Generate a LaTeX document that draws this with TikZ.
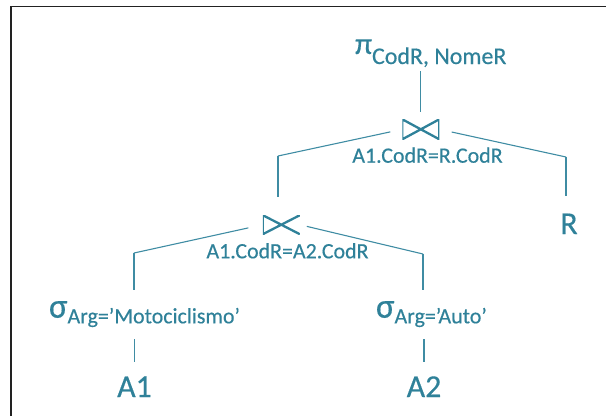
\documentclass[tikz,border=0pt]{standalone}
\usepackage{fontspec}
\setmainfont{Carlito}[FakeBold=0.4]
\newcommand\myfs[1]{\fontsize{#1}{#1}\selectfont}
\definecolor{teal1}{HTML}{2F8199}
\definecolor{line1}{HTML}{3F8CA3}
\definecolor{frame1}{HTML}{222222}
\begin{document}
\begin{tikzpicture}[x=1bp,y=-1bp,
  lbl/.style={inner sep=0pt, outer sep=0pt, text=teal1},
  leaf/.style={lbl, font=\myfs{32}},
  cond/.style={lbl, font=\myfs{22}},
  conn/.style={draw=line1, line width=1.1bp},
  joinsym/.style={inner sep=0pt, outer sep=0pt, minimum width=37bp, minimum height=20bp,
    path picture={\draw[teal1, line width=2.3bp, line join=miter]
      (path picture bounding box.north west) -- (path picture bounding box.south east)
      -- (path picture bounding box.north east) -- (path picture bounding box.south west) -- cycle;}},
  semisym/.style={inner sep=0pt, outer sep=0pt, minimum width=37bp, minimum height=19bp,
    path picture={\draw[teal1, line width=2.3bp, line join=miter]
      (path picture bounding box.south east) -- (path picture bounding box.north west)
      -- (path picture bounding box.south west) -- (path picture bounding box.north east);}}
]
\useasboundingbox (0,0) rectangle (606,416);
% frame
\draw[frame1, line width=1.3bp] (11,416) -- (11,6.5) -- (606,6.5);

% nodes
\node[lbl, anchor=base west] (proj) at (355,54) {\myfs{31}π\raisebox{-10bp}{\myfs{24}CodR, NomeR}};
\node[joinsym] (j1) at (420.8,129.3) {};
\node[cond, anchor=base] (j1lab) at (427.5,162.7) {A1.CodR=R.CodR};
\node[semisym] (j2) at (281.3,224.7) {};
\node[cond, anchor=base] (j2lab) at (287.5,258.3) {A1.CodR=A2.CodR};
\node[leaf, anchor=base] (R) at (569,234) {R};
\node[lbl, anchor=base west] (sel1) at (49,317.7) {\myfs{35}σ\raisebox{-5.6bp}{\myfs{22}Arg=’Motociclismo’}};
\node[lbl, anchor=base west] (sel2) at (376,317.7) {\myfs{35}σ\raisebox{-5.6bp}{\myfs{22}Arg=’Auto’}};
\node[leaf, anchor=base] (A1) at (134.5,397) {A1};
\node[leaf, anchor=base] (A2) at (424,397) {A2};

\coordinate (k1) at (278,156);
\coordinate (k2) at (566,157);
\coordinate (k3) at (134,253);
\coordinate (k4) at (423,254);

% connectors
\draw[conn, shorten <=4bp, shorten >=7bp] (j1.north |- proj.south) -- (j1.north);
\draw[conn, shorten <=12.3bp] (j1.west) -- (k1);
\draw[conn, shorten >=18bp] (k1) -- (k1 |- j2.north);
\draw[conn, shorten <=12.7bp] (j1.east) -- (k2);
\draw[conn, shorten >=18bp] (k2) -- (k2 |- R.north);
\draw[conn, shorten <=14.8bp] (j2.west) -- (k3);
\draw[conn, shorten >=11bp] (k3) -- (k3 |- sel1.north);
\draw[conn, shorten <=7.2bp] (j2.east) -- (k4);
\draw[conn, shorten >=11bp] (k4) -- (k4 |- sel2.north);
\draw[conn, shorten <=12bp, shorten >=14bp] (A1.north |- sel1.south) -- (A1.north);
\draw[conn, shorten <=12bp, shorten >=14bp] (A2.north |- sel2.south) -- (A2.north);
\end{tikzpicture}
\end{document}
